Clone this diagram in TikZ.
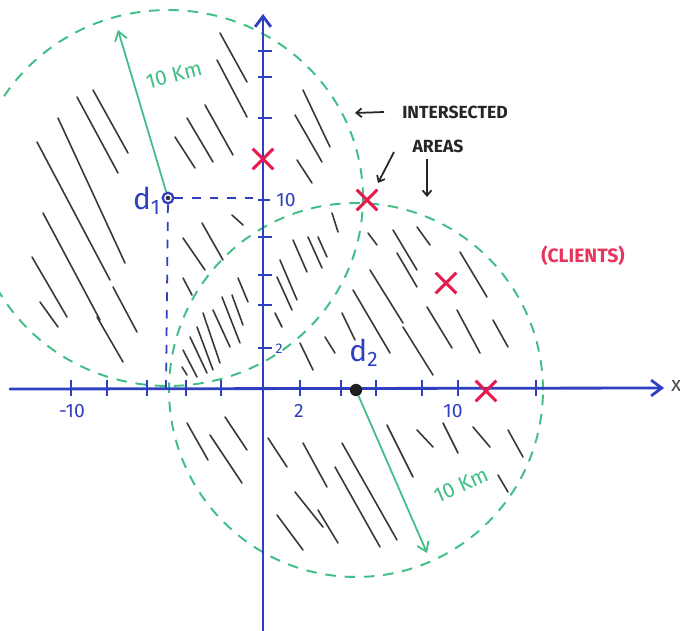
\documentclass[tikz,border=0pt]{standalone}
\usepackage{fontspec}
\setmainfont{Fira Sans}
\usetikzlibrary{arrows.meta,shapes.misc}
\definecolor{axblue}{HTML}{2E40C0}
\definecolor{cgreen}{HTML}{3FBF85}
\definecolor{xred}{HTML}{E8194C}
\definecolor{clientred}{HTML}{E8345C}
\begin{document}
\begin{tikzpicture}[x=0.02cm,y=-0.02cm,
  axis/.style={axblue, line width=1.6pt, line cap=round},
  tickmark/.style={axblue, line width=1.1pt},
  zone/.style={cgreen, line width=1.1pt, dash pattern=on 6pt off 5pt},
  hatchline/.style={black!78, line width=0.9pt, line cap=round},
  radarrow/.style={cgreen, line width=1pt, -{Straight Barb[length=5pt,width=7pt]}},
  bluedash/.style={axblue, line width=1pt, dash pattern=on 5pt off 5pt},
  client/.style={draw=xred, cross out, line width=1.8pt, minimum size=10pt, inner sep=0pt},
  lbl/.style={axblue, font=\fontsize{11}{11}\selectfont},
  note/.style={black!85, font=\fontsize{10}{10}\selectfont\bfseries},
  notearrow/.style={black!85, line width=1pt, -{Straight Barb[length=3pt,width=5pt]}},
  kmlbl/.style={cgreen, font=\fontsize{12}{12}\selectfont}]
\useasboundingbox (0,0) rectangle (680,631);
\clip (0,0) rectangle (680,631);
\fill[white] (0,0) rectangle (680,631);

% hatching
\foreach \a/\b/\c/\d in {
 220/33/247/82, 217/60/247/117, 205/105/233/155, 187/118/213/162, 175/137/195/168,
 77/97/118/173, 93/90/128/153, 58/118/125/263, 37/142/110/280, 43/213/100/320,
 32/257/67/317, 40/302/58/327, 97/317/123/362, 113/287/137/332,
 303/90/330/147, 295/115/322/162, 297/160/312/183,
 183/238/205/270, 202/223/223/260, 232/215/243/225, 183/278/192/295,
 293/240/307/272, 308/237/322/268, 318/237/327/257, 332/213/338/232,
 280/260/297/300, 277/277/292/310, 275/313/282/327, 238/278/248/302,
 232/295/243/325, 222/297/240/343, 213/310/230/347, 203/313/220/363,
 197/327/213/370, 190/337/207/373, 183/350/197/377, 182/367/187/375,
 368/233/377/245, 393/230/417/270, 417/227/430/245, 397/253/417/287,
 370/270/403/323, 353/290/390/353, 342/313/355/340, 325/337/335/353,
 300/343/313/370, 403/327/433/375, 427/307/452/348, 457/310/480/353,
 460/252/487/297, 493/320/508/347,
 387/425/413/477, 417/430/433/447, 443/423/458/453, 473/427/490/447,
 508/430/523/457, 498/475/508/492, 342/443/397/540, 335/467/380/547,
 303/443/327/487, 268/438/287/467, 295/492/323/527, 318/510/338/543,
 277/515/303/550, 187/423/208/460, 210/435/242/483, 225/417/247/450}
 \draw[hatchline] (\a,\b) -- (\c,\d);

% coverage zones
\draw[zone] (168,198) ellipse [x radius=3.9cm, y radius=3.76cm];
\draw[zone] (356,390) circle [radius=3.74cm];

% axes
\coordinate (xs) at (10,389);
\coordinate (xe) at (664,388);
\coordinate (ys) at (263,631);
\coordinate (ye) at (263,14);
\draw[axis, -{Straight Barb[length=6pt,width=9pt]}] (xs) -- (xe);
\draw[axis, -{Straight Barb[length=6pt,width=9pt]}] (ys) -- (ye);
\foreach \t in {71,107,147,186,221,300,341,376,422,458,536}
  \draw[tickmark] (\t,380) -- (\t,396);
\foreach \t in {51,77,118,237,275,305,348}
  \draw[tickmark] (258,\t) -- (272,\t);
\draw[tickmark] (258,200) -- (270,200);

% axis labels
\node[lbl] (xm10) at (72,411) {-10};
\node[lbl] (x2) at (299,411) {2};
\node[lbl] (x10) at (453,411) {10};
\node[lbl] (y10l) at (286,200) {10};
\node[lbl, font=\fontsize{8}{8}\selectfont] (y2l) at (279,349) {2};
\node[black!70, anchor=west, inner sep=1pt, font=\fontsize{12}{12}\selectfont] (xlab) at (669,386) {x};

% distribution centres
\node[circle, draw=axblue, line width=1.3pt, fill=white, minimum size=6pt, inner sep=0pt] (d1) at (168,198) {};
\fill[black!80] (d1) circle (1.3pt);
\node[circle, fill=black!88, minimum size=7pt, inner sep=0pt] (d2) at (356,390) {};
\node[axblue, font=\fontsize{17}{17}\selectfont] (d1lab) at (147,201) {d\textsubscript{1}};
\node[axblue, font=\fontsize{17}{17}\selectfont] (d2lab) at (364,353) {d\textsubscript{2}};

% projection lines
\coordinate (y10) at (258,198);
\coordinate (xm9) at (166,388);
\draw[bluedash] (d1) -- (y10);
\draw[bluedash] (d1) -- (xm9);

% radius arrows
\coordinate (r1) at (118,30);
\coordinate (r2) at (427,553);
\draw[radarrow] (d1) -- (r1);
\draw[radarrow] (d2) -- (r2);
\node[kmlbl, rotate=15] (km1) at (174,75) {10 Km};
\node[kmlbl, rotate=24] (km2) at (461,485) {10 Km};

% clients
\node[client] (c1) at (263,159) {};
\node[client] (c2) at (367,200) {};
\node[client] (c3) at (446,283) {};
\node[client] (c4) at (486,391) {};
\node[clientred, font=\fontsize{11}{11}\selectfont\bfseries] (clients) at (583,256) {(CLIENTS)};

% annotation
\node[note] (inter) at (455,112) {INTERSECTED};
\node[note] (areas) at (438,146) {AREAS};
\coordinate (a1s) at (384,112);
\coordinate (a1e) at (355,113);
\coordinate (a2s) at (394,152);
\coordinate (a2e) at (378,183);
\coordinate (a3e) at (427,197);
\draw[notearrow] (a1s) -- (a1e);
\draw[notearrow] (a2s) -- (a2e);
\draw[notearrow] (areas.south -| a3e) -- (a3e);
\end{tikzpicture}
\end{document}
